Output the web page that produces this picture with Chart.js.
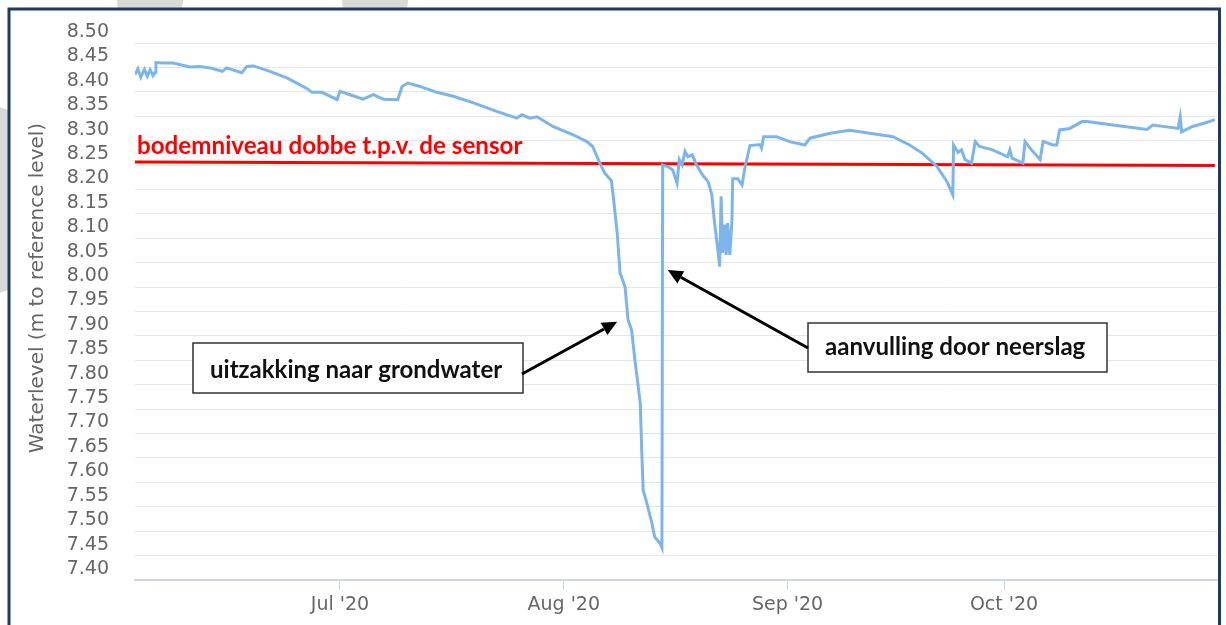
<!DOCTYPE html>
<html>
<head>
<meta charset="utf-8">
<script src="https://cdn.jsdelivr.net/npm/chart.js@4.4.1/dist/chart.umd.min.js"></script>
<style>
html, body { margin: 0; padding: 0; background: #fff; }
#wrap { width: 1226px; height: 625px; }
</style>
</head>
<body>
<div id="wrap"><canvas id="levelChart" width="1226" height="625"></canvas></div>
<script>
// days counted from 1 Jun 2020 (0 = 1 Jun)
const dayNumbers = [
  1.6, 2.0, 2.4, 2.9, 3.3, 3.7, 4.1, 4.4, 4.5, 5.5,
  6.9, 9.2, 10.6, 12.0, 13.7, 14.3, 16.4, 17.1, 18.0, 20.3,
  22.7, 25.4, 26.1, 27.5, 29.6, 30.0, 31.4, 33.2, 34.6, 36.0,
  38.0, 38.6, 39.4, 41.1, 43.4, 45.7, 48.4, 51.7, 54.5, 55.2,
  56.3, 57.3, 59.5, 62.3, 64.2, 65.0, 66.0, 66.7, 67.6, 67.9,
  68.4, 68.8, 69.5, 69.9, 70.4, 70.9, 71.6, 71.8, 72.0, 72.5,
  73.2, 73.6, 74.3, 74.6, 74.7, 75.4, 76.1, 76.7, 77.0, 77.4,
  77.8, 78.2, 78.8, 79.4, 80.3, 81.0, 81.5, 81.9, 82.4, 82.6,
  82.8, 83.0, 83.3, 83.5, 83.7, 84.0, 84.3, 84.4, 85.1, 85.7,
  86.1, 86.8, 88.2, 88.4, 88.7, 90.5, 92.3, 94.4, 95.1, 97.9,
  100.6, 103.4, 106.6, 108.9, 110.7, 112.7, 114.1, 114.9, 115.0, 115.6,
  116.1, 116.6, 117.5, 118.0, 118.6, 120.4, 122.5, 122.8, 123.1, 124.6,
  124.9, 125.8, 127.0, 127.4, 128.8, 129.3, 129.7, 131.1, 132.8, 133.5,
  137.1, 141.8, 142.6, 146.1, 146.4, 146.6, 148.1, 149.8, 151.2
];
const levels = [
  8.435, 8.447, 8.430, 8.446, 8.432, 8.445, 8.433, 8.440, 8.460, 8.459,
  8.459, 8.451, 8.452, 8.449, 8.442, 8.449, 8.439, 8.452, 8.453, 8.442,
  8.428, 8.407, 8.399, 8.399, 8.384, 8.401, 8.394, 8.385, 8.394, 8.385,
  8.384, 8.411, 8.418, 8.411, 8.399, 8.391, 8.378, 8.360, 8.346, 8.353,
  8.346, 8.349, 8.329, 8.312, 8.298, 8.288, 8.254, 8.233, 8.218, 8.180,
  8.111, 8.029, 8.000, 7.933, 7.912, 7.845, 7.763, 7.666, 7.584, 7.558,
  7.517, 7.488, 7.476, 7.466, 8.250, 8.247, 8.240, 8.213, 8.261, 8.250,
  8.278, 8.267, 8.271, 8.250, 8.228, 8.216, 8.190, 8.130, 8.069, 8.042,
  8.186, 8.070, 8.128, 8.066, 8.131, 8.066, 8.135, 8.222, 8.222, 8.209,
  8.245, 8.290, 8.292, 8.285, 8.308, 8.308, 8.298, 8.291, 8.305, 8.315,
  8.321, 8.315, 8.308, 8.291, 8.274, 8.247, 8.216, 8.189, 8.291, 8.276,
  8.281, 8.261, 8.254, 8.298, 8.288, 8.281, 8.267, 8.281, 8.264, 8.254,
  8.298, 8.281, 8.261, 8.298, 8.291, 8.291, 8.322, 8.325, 8.339, 8.339,
  8.332, 8.323, 8.332, 8.325, 8.349, 8.318, 8.329, 8.336, 8.343
];
const monthStarts = [30, 61, 92, 122];
const monthLabels = ["Jul '20", "Aug '20", "Sep '20", "Oct '20"];
const bottomDays = [1.6, 151.2];
const bottomLevels = [8.256, 8.249];
const yTitle = "Waterlevel (m to reference level)";
const bottomText = "bodemniveau dobbe t.p.v. de sensor";
const noteTexts = ["uitzakking naar grondwater", "aanvulling door neerslag"];
const noteTips = [[68.4, 7.929], [75.4, 8.035]];

// box placement for the two call-outs (pixels)
const noteBoxes = [
  { box: [193, 343, 330, 50], text: [210, 378, 292], from: [522, 374] },
  { box: [808, 323, 299, 49], text: [825, 355, 260], from: [808, 348] }
];

function fitFont(ctx, text, width, weight, family) {
  ctx.font = weight + ' 20px ' + family;
  const size = 20 * width / ctx.measureText(text).width;
  return weight + ' ' + size.toFixed(1) + 'px ' + family;
}

function drawArrow(ctx, x1, y1, x2, y2) {
  const ang = Math.atan2(y2 - y1, x2 - x1);
  const head = 15;
  const bx = x2 - head * Math.cos(ang), by = y2 - head * Math.sin(ang);
  ctx.beginPath(); ctx.moveTo(x1, y1); ctx.lineTo(bx, by); ctx.stroke();
  ctx.beginPath();
  ctx.moveTo(x2, y2);
  ctx.lineTo(bx + 7 * Math.sin(ang), by - 7 * Math.cos(ang));
  ctx.lineTo(bx - 7 * Math.sin(ang), by + 7 * Math.cos(ang));
  ctx.closePath(); ctx.fill();
}

const framePlugin = {
  id: 'frame',
  beforeDraw(chart) {
    const ctx = chart.ctx;
    ctx.save();
    ctx.fillStyle = '#fff';
    ctx.fillRect(0, 0, chart.width, chart.height);
    // faint watermark pieces outside the frame
    ctx.strokeStyle = '#d9d9d9';
    ctx.lineWidth = 30;
    ctx.beginPath(); ctx.arc(300, 200, 305, Math.PI - 0.3, Math.PI + 0.3); ctx.stroke();
    ctx.beginPath(); ctx.arc(150, 300, 305, -Math.PI / 2 - 0.11, -Math.PI / 2 + 0.11); ctx.stroke();
    ctx.beginPath(); ctx.arc(375, 300, 305, -Math.PI / 2 - 0.11, -Math.PI / 2 + 0.11); ctx.stroke();
    ctx.fillStyle = '#fff';
    ctx.fillRect(9, 9, 1210.5, chart.height);
    ctx.strokeStyle = '#1f3b5f';
    ctx.lineWidth = 3;
    ctx.beginPath();
    ctx.moveTo(9, chart.height); ctx.lineTo(9, 9); ctx.lineTo(1219.5, 9); ctx.lineTo(1219.5, chart.height);
    ctx.stroke();
    ctx.restore();
  }
};

const notesPlugin = {
  id: 'notes',
  afterDatasetsDraw(chart) {
    const ctx = chart.ctx;
    const xs = chart.scales.x, ys = chart.scales.y;
    ctx.save();
    // y axis title
    ctx.translate(38, 288);
    ctx.rotate(-Math.PI / 2);
    ctx.font = fitFont(ctx, yTitle, 331, 'normal', '"DejaVu Sans"');
    ctx.fillStyle = '#666666';
    ctx.textAlign = 'center';
    ctx.textBaseline = 'middle';
    ctx.fillText(yTitle, 0, 0);
    ctx.restore();

    ctx.save();
    ctx.font = fitFont(ctx, bottomText, 386, 'bold', 'Lato');
    ctx.fillStyle = '#ff0000';
    ctx.textBaseline = 'alphabetic';
    ctx.fillText(bottomText, 137, 154);

    noteBoxes.forEach((n, i) => {
      ctx.fillStyle = '#fff';
      ctx.fillRect(n.box[0], n.box[1], n.box[2], n.box[3]);
      ctx.strokeStyle = '#333';
      ctx.lineWidth = 1.5;
      ctx.strokeRect(n.box[0], n.box[1], n.box[2], n.box[3]);
      ctx.font = fitFont(ctx, noteTexts[i], n.text[2], 'bold', 'Lato');
      ctx.fillStyle = '#111';
      ctx.fillText(noteTexts[i], n.text[0], n.text[1]);
      ctx.strokeStyle = '#000';
      ctx.fillStyle = '#000';
      ctx.lineWidth = 3;
      drawArrow(ctx, n.from[0], n.from[1],
        xs.getPixelForValue(noteTips[i][0]), ys.getPixelForValue(noteTips[i][1]));
    });
    ctx.restore();
  }
};

new Chart(document.getElementById('levelChart'), {
  type: 'line',
  data: {
    datasets: [{
      label: 'Waterlevel',
      data: dayNumbers.map((d, i) => ({ x: d, y: levels[i] })),
      borderColor: '#7cb5ec',
      borderWidth: 3,
      pointRadius: 0,
      tension: 0
    }, {
      label: 'bodemniveau',
      data: bottomDays.map((d, i) => ({ x: d, y: bottomLevels[i] })),
      borderColor: '#ff0000',
      borderWidth: 3,
      pointRadius: 0
    }]
  },
  options: {
    responsive: false,
    animation: false,
    devicePixelRatio: 1,
    layout: { padding: { left: 0, top: 43, right: 9, bottom: 0 } },
    plugins: { legend: { display: false }, tooltip: { enabled: false } },
    scales: {
      x: {
        type: 'linear',
        min: 1.6,
        max: 151.5,
        afterBuildTicks: s => { s.ticks = monthStarts.map(v => ({ value: v })); },
        afterFit: s => { s.height = 45; },
        ticks: {
          callback: v => monthLabels[monthStarts.indexOf(v)],
          font: { family: '"DejaVu Sans"', size: 19 },
          color: '#666666',
          padding: 4,
          maxRotation: 0,
          autoSkip: false
        },
        grid: { drawOnChartArea: false, drawTicks: true, tickLength: 10, color: '#ccd6eb' },
        border: { color: '#ccd6eb', width: 2 }
      },
      y: {
        min: 7.4,
        max: 8.5,
        afterFit: s => { s.width = 135; },
        ticks: {
          stepSize: 0.05,
          callback: v => v.toFixed(2),
          font: { family: '"DejaVu Sans"', size: 19 },
          color: '#666666',
          padding: 26,
          labelOffset: -11,
          autoSkip: false
        },
        grid: { color: '#e6e6e6', drawTicks: false },
        border: { display: false }
      }
    }
  },
  plugins: [framePlugin, notesPlugin]
});
</script>
</body>
</html>
